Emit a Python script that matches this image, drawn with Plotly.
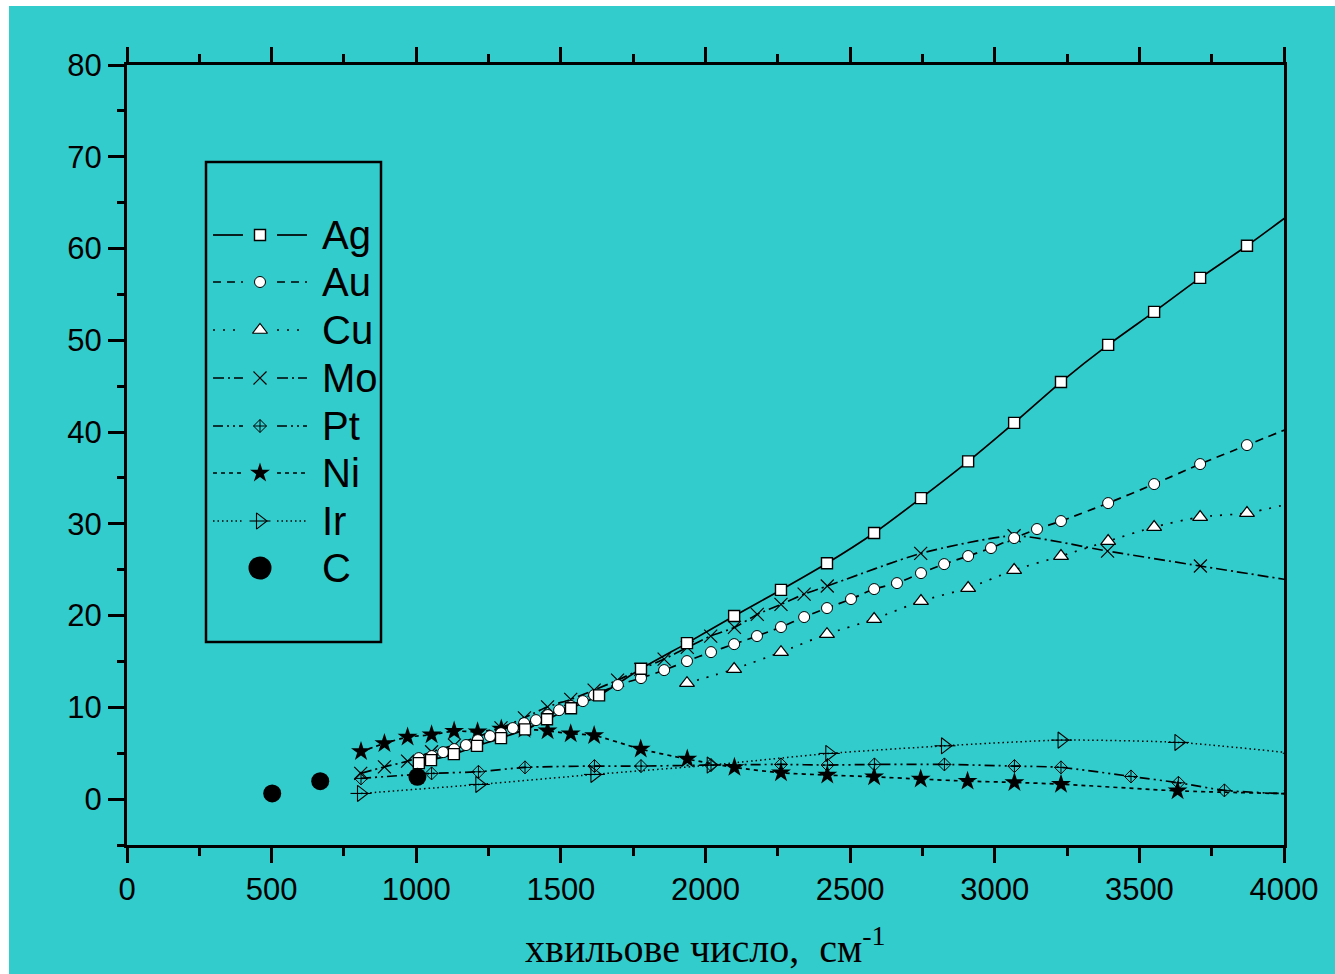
import plotly.graph_objects as go

# ---- data: wavenumber (cm^-1) vs. value for each material ----
ag_x = [1009, 1051, 1130, 1210, 1293, 1376, 1452, 1535, 1632, 1777, 1936, 2099, 2261,
        2420, 2583, 2745, 2908, 3067, 3229, 3392, 3551, 3710, 3872, 4032]
ag_y = [3.92, 4.25, 4.9, 5.8, 6.65, 7.6, 8.7, 9.9, 11.3, 14.2, 17.0, 19.95, 22.8,
        25.7, 29.0, 32.8, 36.8, 41.0, 45.45, 49.5, 53.1, 56.8, 60.3, 64.0]

au_x = [1009, 1054, 1093, 1131, 1172, 1213, 1255, 1293, 1334, 1373, 1414, 1455, 1494,
        1535, 1576, 1615, 1697, 1777, 1857, 1936, 2019, 2099, 2178, 2261, 2341, 2420,
        2503, 2583, 2662, 2745, 2825, 2908, 2987, 3067, 3146, 3229, 3392, 3551, 3710,
        3872, 4032]
au_y = [4.47, 4.69, 5.12, 5.45, 5.89, 6.43, 6.87, 7.19, 7.74, 8.28, 8.61, 9.16, 9.70,
        10.14, 10.68, 11.34, 12.43, 13.19, 14.06, 15.04, 16.02, 16.89, 17.77, 18.75,
        19.84, 20.82, 21.80, 22.89, 23.54, 24.63, 25.61, 26.49, 27.36, 28.45, 29.43,
        30.30, 32.26, 34.33, 36.51, 38.58, 40.6]

cu_x = [1936, 2099, 2261, 2420, 2583, 2745, 2908, 3067, 3229, 3392, 3551, 3710, 3872, 4032]
cu_y = [12.64, 14.17, 16.02, 17.98, 19.62, 21.58, 23.0, 24.96, 26.49, 28.12, 29.65,
        30.74, 31.17, 32.3]

mo_x = [808, 890, 970, 1053, 1132, 1212, 1293, 1374, 1454, 1534, 1615, 1696, 1776,
        1857, 1937, 2018, 2100, 2179, 2261, 2341, 2421, 2744, 3067, 3390, 3711, 4032]
mo_y = [2.80, 3.52, 4.14, 5.16, 5.89, 6.79, 7.77, 8.86, 10.06, 10.87, 11.88, 12.97,
        14.14, 15.26, 16.53, 17.77, 18.71, 20.13, 21.22, 22.34, 23.22, 26.78, 28.70,
        27.03, 25.40, 23.8]

pt_x = [809, 1053, 1215, 1376, 1616, 1777, 2019, 2261, 2422, 2584, 2826, 3068, 3229,
        3471, 3635, 3794, 4032]
pt_y = [2.26, 2.80, 2.98, 3.46, 3.60, 3.60, 3.71, 3.78, 3.71, 3.78, 3.78, 3.60, 3.46,
        2.47, 1.78, 0.95, 0.55]

ni_x = [809, 890, 970, 1053, 1131, 1212, 1294, 1374, 1454, 1534, 1615, 1776, 1937,
        2100, 2261, 2421, 2583, 2744, 2906, 3068, 3229, 3632, 4032]
ni_y = [5.18, 6.07, 6.76, 7.01, 7.41, 7.34, 7.65, 7.61, 7.44, 7.12, 6.94, 5.45, 4.36,
        3.46, 2.87, 2.62, 2.43, 2.18, 1.96, 1.82, 1.63, 0.90, 0.58]

ir_x = [809, 1218, 1616, 2018, 2428, 2828, 3231, 3635, 4032]
ir_y = [0.62, 1.60, 2.69, 3.71, 4.98, 5.81, 6.43, 6.18, 5.0]

c_x = [502, 668, 1004]
c_y = [0.62, 1.96, 2.43]

names = ["Ag", "Au", "Cu", "Mo", "Pt", "Ni", "Ir", "C"]

TEAL = "#33CCCC"
BLACK = "#000000"

# ---- styling per series ----
styles = {
    "Ag": dict(line=dict(color=BLACK, width=1.7, dash="solid"),
               marker=dict(symbol="square", size=11, color="white",
                           line=dict(color=BLACK, width=1.4))),
    "Au": dict(line=dict(color=BLACK, width=1.7, dash="8px,6px"),
               marker=dict(symbol="circle", size=11, color="white",
                           line=dict(color=BLACK, width=1))),
    "Cu": dict(line=dict(color=BLACK, width=1.7, dash="2px,8px"),
               marker=dict(symbol="triangle-up", size=13, color="white",
                           line=dict(color=BLACK, width=1.2))),
    "Mo": dict(line=dict(color=BLACK, width=1.7, dash="11px,4px,2px,4px"),
               marker=dict(symbol="x-thin-open", size=13, color=BLACK,
                           line=dict(color=BLACK, width=1.2))),
    "Pt": dict(line=dict(color=BLACK, width=1.7, dash="10px,4px,2px,4px,2px,4px"),
               marker=dict(symbol="diamond-cross-open", size=10, color=BLACK,
                           line=dict(color=BLACK, width=1))),
    "Ni": dict(line=dict(color=BLACK, width=1.7, dash="4px,4px"),
               marker=dict(symbol="star", size=15, color=BLACK,
                           line=dict(color=BLACK, width=0))),
    "Ir": dict(line=dict(color=BLACK, width=1.5, dash="1.5px,3px"),
               marker=dict(symbol="triangle-right-open", size=14, color=BLACK,
                           line=dict(color=BLACK, width=1.1))),
}
ir_bar = dict(symbol="line-ew-open", size=15, color=BLACK,
              line=dict(color=BLACK, width=1.1))

series = {
    "Ag": (ag_x, ag_y), "Au": (au_x, au_y), "Cu": (cu_x, cu_y), "Mo": (mo_x, mo_y),
    "Pt": (pt_x, pt_y), "Ni": (ni_x, ni_y), "Ir": (ir_x, ir_y),
}

fig = go.Figure()

# draw lines first, then markers on top
for nm in ["Ir", "Pt", "Ni", "Cu", "Mo", "Au", "Ag"]:
    x, y = series[nm]
    st = styles[nm]
    fig.add_trace(go.Scatter(x=x, y=y, mode="lines", line=dict(**st["line"], shape="spline",
                             smoothing=0.6), showlegend=False, hoverinfo="skip"))
for nm in ["Ir", "Pt", "Ni", "Cu", "Mo", "Au", "Ag"]:
    x, y = series[nm]
    st = styles[nm]
    fig.add_trace(go.Scatter(x=x, y=y, mode="markers", marker=st["marker"],
                             name=nm, showlegend=False))
    if nm == "Ir":
        fig.add_trace(go.Scatter(x=x, y=y, mode="markers", showlegend=False,
                                 hoverinfo="skip", marker=ir_bar))

fig.add_trace(go.Scatter(x=c_x, y=c_y, mode="markers", name="C", showlegend=False,
                         marker=dict(symbol="circle", size=18, color=BLACK,
                                     line=dict(width=0))))

# ---- hand-built legend panel on its own axes (pixel-like coordinates) ----
W, H = 1335, 974
ML, MR, MT, MB = 127, 51, 65, 129
pw, ph = W - ML - MR, H - MT - MB


def px_x(p):
    return (p - ML) / pw


def px_y(p):
    return (H - MB - p) / ph


box = (206, 162, 381, 642)
row_y = [235, 282, 330, 378, 426, 473, 521, 568]

for nm, ry in zip(names, row_y):
    if nm == "C":
        fig.add_trace(go.Scatter(x=[260], y=[ry], mode="markers", xaxis="x2", yaxis="y2",
                                 showlegend=False,
                                 marker=dict(symbol="circle", size=23, color=BLACK,
                                             line=dict(width=0))))
    else:
        st = styles[nm]
        fig.add_trace(go.Scatter(x=[213, 243, None, 277, 307], y=[ry, ry, None, ry, ry],
                                 mode="lines", xaxis="x2", yaxis="y2", showlegend=False,
                                 line=st["line"], connectgaps=False))
        fig.add_trace(go.Scatter(x=[260], y=[ry], mode="markers", xaxis="x2", yaxis="y2",
                                 showlegend=False, marker=st["marker"]))
        if nm == "Ir":
            fig.add_trace(go.Scatter(x=[260], y=[ry], mode="markers", xaxis="x2",
                                     yaxis="y2", showlegend=False, marker=ir_bar))
    fig.add_annotation(x=320, y=ry, xref="x2", yref="y2", text=nm, showarrow=False,
                       xanchor="left", yanchor="middle",
                       font=dict(family="Liberation Sans, Arial", size=40, color=BLACK))

shapes = [
    # teal page area
    dict(type="rect", xref="paper", yref="paper", layer="below",
         x0=px_x(9), x1=px_x(W + 5), y0=px_y(H + 5), y1=px_y(6),
         fillcolor=TEAL, line=dict(width=0)),
    # legend panel fill
    dict(type="rect", xref="paper", yref="paper", layer="below",
         x0=px_x(box[0]), x1=px_x(box[2]), y0=px_y(box[3]), y1=px_y(box[1]),
         fillcolor="white", line=dict(width=0)),
    # legend panel frame
    dict(type="rect", xref="paper", yref="paper", layer="above",
         x0=px_x(box[0]), x1=px_x(box[2]), y0=px_y(box[3]), y1=px_y(box[1]),
         fillcolor="rgba(0,0,0,0)", line=dict(color=BLACK, width=2.5)),
]

tickfont = dict(family="Liberation Sans, Arial", size=31, color=BLACK)

fig.update_layout(
    width=W, height=H,
    margin=dict(l=ML, r=MR, t=MT, b=MB, pad=0),
    paper_bgcolor="white",
    plot_bgcolor=TEAL,
    shapes=shapes,
    xaxis=dict(range=[0, 4000], tick0=0, dtick=500, ticks="outside", ticklen=15,
               tickwidth=3, tickcolor=BLACK, showline=True, linewidth=3, linecolor=BLACK,
               mirror="ticks", showgrid=False, zeroline=False, tickfont=tickfont,
               minor=dict(dtick=250, ticks="outside", ticklen=8, tickwidth=3,
                          tickcolor=BLACK, showgrid=False)),
    yaxis=dict(range=[-5, 80], tick0=0, dtick=10, ticks="outside", ticklen=16,
               tickwidth=3, tickcolor=BLACK, showline=True, linewidth=3, linecolor=BLACK,
               mirror=True, showgrid=False, zeroline=False, tickfont=tickfont,
               minor=dict(dtick=5, ticks="outside", ticklen=7, tickwidth=3,
                          tickcolor=BLACK, showgrid=False)),
    xaxis2=dict(domain=[px_x(box[0]), px_x(box[2])], range=[box[0], box[2]],
                visible=False, anchor="y2", fixedrange=True),
    yaxis2=dict(domain=[px_y(box[3]), px_y(box[1])], range=[box[3], box[1]],
                visible=False, anchor="x2", fixedrange=True),
    showlegend=False,
)

fig.add_annotation(x=px_x(706), y=px_y(972), xref="paper", yref="paper",
                   text="хвильове число,&nbsp; см<sup>-1</sup>", showarrow=False,
                   xanchor="center", yanchor="bottom", borderpad=0,
                   font=dict(family="Liberation Serif, Times New Roman", size=40,
                             color=BLACK))

fig.write_html("out.html")
